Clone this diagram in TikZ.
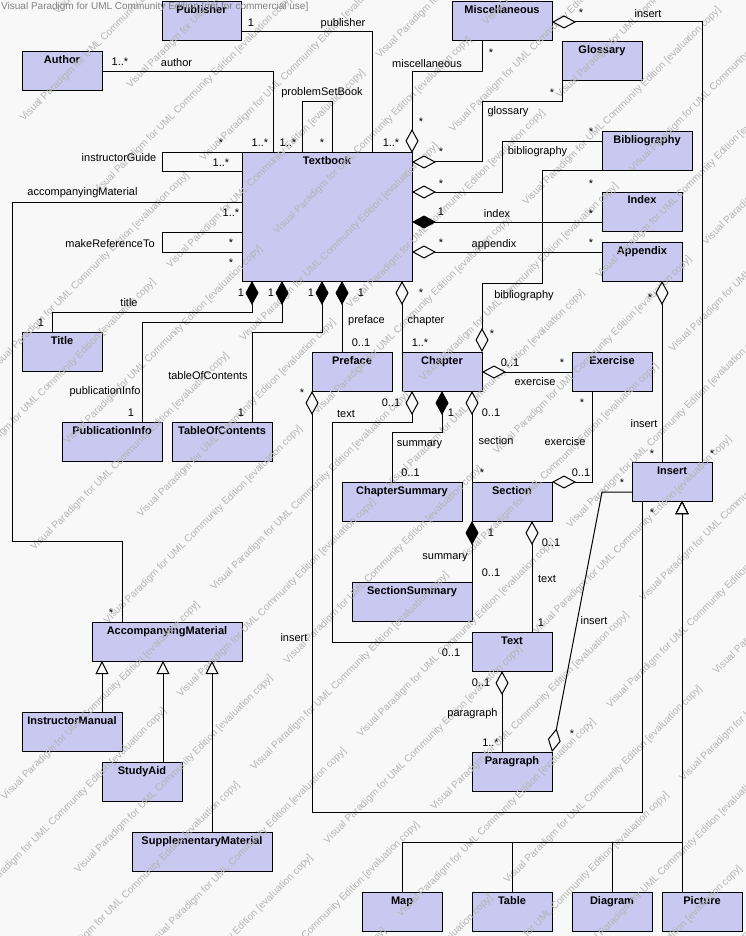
\documentclass[tikz,border=0pt]{standalone}
\usepackage{fontspec}
\setmainfont{Liberation Sans}
\usetikzlibrary{arrows.meta,calc}
\definecolor{bgcol}{RGB}{248,248,248}
\definecolor{clsfill}{RGB}{200,200,240}
\definecolor{wmgray}{RGB}{180,180,180}
\definecolor{hdrgray}{RGB}{130,130,130}
\tikzset{
 cls/.style={draw, line width=1pt, fill=clsfill, font=\fontsize{11}{13}\selectfont\bfseries, anchor=north west, inner xsep=0pt, inner ysep=0pt, outer sep=0pt, text height=12pt, text depth=27pt},
 lab/.style={font=\fontsize{11}{13}\selectfont, anchor=base, inner sep=0pt},
 wm/.style={font=\fontsize{10}{12}\selectfont, text=wmgray, rotate=45, anchor=base west, inner sep=0pt},
 hdr/.style={font=\fontsize{10}{12}\selectfont, text=hdrgray, anchor=base west, inner sep=0pt},
 assoc/.style={draw, line width=1pt},
 aggr/.style={assoc, {Diamond[length=24pt,width=13pt,fill=bgcol]}-},
 comp/.style={assoc, {Diamond[length=24pt,width=13pt]}-},
 gen/.style={assoc, -{Triangle[length=13pt,width=13pt,fill=bgcol]}},
}
\begin{document}
\begin{tikzpicture}[x=1pt,y=-1pt]
\useasboundingbox (0,0) rectangle (746,936);
\fill[bgcol] (0,0) rectangle (746,936);
% classes
\node[cls, minimum width=79pt] (Publisher) at (162,2) {Publisher};
\node[cls, minimum width=80pt] (Author) at (22,52) {Author};
\node[cls, minimum width=170pt, text depth=116pt] (Textbook) at (242,153) {Textbook};
\node[cls, minimum width=100pt] (Miscellaneous) at (452,2) {Miscellaneous};
\node[cls, minimum width=80pt] (Glossary) at (562,42) {Glossary};
\node[cls, minimum width=90pt] (Bibliography) at (602,132) {Bibliography};
\node[cls, minimum width=80pt] (Index) at (602,192) {Index};
\node[cls, minimum width=80pt] (Appendix) at (602,242) {Appendix};
\node[cls, minimum width=80pt] (Title) at (22,332) {Title};
\node[cls, minimum width=100pt] (PublicationInfo) at (62,422) {PublicationInfo};
\node[cls, minimum width=100pt] (TableOfContents) at (172,422) {TableOfContents};
\node[cls, minimum width=80pt] (Preface) at (312,352) {Preface};
\node[cls, minimum width=80pt] (Chapter) at (402,352) {Chapter};
\node[cls, minimum width=80pt] (Exercise) at (572,352) {Exercise};
\node[cls, minimum width=120pt] (ChapterSummary) at (342,482) {ChapterSummary};
\node[cls, minimum width=80pt] (Section) at (472,482) {Section};
\node[cls, minimum width=80pt] (Insert) at (632,462) {Insert};
\node[cls, minimum width=120pt] (SectionSummary) at (352,582) {SectionSummary};
\node[cls, minimum width=80pt] (Text) at (472,632) {Text};
\node[cls, minimum width=80pt] (Paragraph) at (472,752) {Paragraph};
\node[cls, minimum width=150pt] (AccompanyingMaterial) at (92,622) {AccompanyingMaterial};
\node[cls, minimum width=100pt] (InstructorManual) at (22,712) {InstructorManual};
\node[cls, minimum width=80pt] (StudyAid) at (102,762) {StudyAid};
\node[cls, minimum width=140pt] (SupplementaryMaterial) at (132,832) {SupplementaryMaterial};
\node[cls, minimum width=80pt] (Map) at (362,892) {Map};
\node[cls, minimum width=80pt] (Table) at (472,892) {Table};
\node[cls, minimum width=80pt] (Diagram) at (572,892) {Diagram};
\node[cls, minimum width=80pt] (Picture) at (662,892) {Picture};
% watermark
\begin{scope}
\clip (0,0) rectangle (746,936);
\foreach \k in {-17,...,6}{
  \pgfmathsetmacro{\rowS}{1245+73.3*(\k)}
  \pgfmathsetmacro{\tzero}{mod(\k+100,2)==1 ? -69.3 : 29.7}
  \foreach \m in {-4,...,2}{
    \pgfmathsetmacro{\tval}{\tzero+296*(\m)}
    \pgfmathsetmacro{\xx}{(\rowS+\tval*1.41421)/2}
    \pgfmathsetmacro{\yy}{(\rowS-\tval*1.41421)/2}
    \pgfmathtruncatemacro{\vis}{and(and(\xx>-60,\xx<746),and(\yy>0,\yy<1130)) ? 1 : 0}
    \ifnum\vis=1
      \node[wm] (wm\k m\m) at (\xx,\yy) {Visual Paradigm for UML Community Edition [evaluation copy]};
    \fi
  }
}
\end{scope}
\node[hdr] (hdr) at (1,9.5) {Visual Paradigm for UML Community Edition [not for commercial use]};
% connectors
\draw[assoc] ($(Publisher.north east)+(0,30)$) -| ($(Textbook.north west)+(130,0)$);
\draw[assoc] ($(Author.north east)+(0,20)$) -| ($(Textbook.north west)+(31,0)$);
\draw[assoc] ($(Textbook.north west)+(60,0)$) -- ++(0,-51) -| ($(Textbook.north west)+(90,0)$);
\draw[assoc] (Textbook.north west) -- ++(-80,0) |- ($(Textbook.north west)+(0,19)$);
\draw[assoc] ($(Textbook.north west)+(0,49)$) -- ++(-230,0) |- ($(AccompanyingMaterial.north west)+(30,-81)$) -- ($(AccompanyingMaterial.north west)+(30,0)$);
\draw[assoc] ($(Textbook.north west)+(0,79)$) -- ++(-80,0) |- ($(Textbook.north west)+(0,99)$);
\draw[comp] ($(Textbook.south west)+(10,0)$) |- ($(Title.north west)+(30,-20)$) -- ($(Title.north west)+(30,0)$);
\draw[comp] ($(Textbook.south west)+(40,0)$) |- ($(PublicationInfo.north west)+(80,-100)$) -- ($(PublicationInfo.north west)+(80,0)$);
\draw[comp] ($(Textbook.south west)+(80,0)$) |- ($(TableOfContents.north west)+(80,-90)$) -- ($(TableOfContents.north west)+(80,0)$);
\draw[comp] ($(Textbook.south west)+(100,0)$) -- ($(Preface.north west)+(30,0)$);
\draw[aggr] ($(Textbook.south west)+(160,0)$) -- (Chapter.north west);
\draw[aggr] (Textbook.north east) -- ++(0,-81) -| ($(Miscellaneous.south west)+(30,0)$);
\draw[aggr] ($(Textbook.north east)+(0,9)$) -- ++(70,0) |- ($(Glossary.south west)+(0,21)$) -- (Glossary.south west);
\draw[aggr] ($(Textbook.north east)+(0,39)$) -- ++(90,0) |- ($(Bibliography.north west)+(0,10)$);
\draw[comp] ($(Textbook.north east)+(0,69)$) -- ($(Index.north west)+(0,30)$);
\draw[aggr] ($(Textbook.north east)+(0,99)$) -- ($(Appendix.north west)+(0,10)$);
\draw[aggr] (Chapter.north east) -- ++(0,-69) -| ($(Bibliography.south west)+(-60,0)$) -- (Bibliography.south west);
\draw[aggr] ($(Miscellaneous.north east)+(0,20)$) -| ($(Insert.north west)+(70,0)$);
\draw[aggr] ($(Appendix.south west)+(60,0)$) -- ($(Insert.north west)+(30,0)$);
\draw[aggr] ($(Chapter.north east)+(0,20)$) -- ($(Exercise.north west)+(0,20)$);
\draw[aggr] (Section.north east) -| ($(Exercise.south west)+(20,0)$);
\draw[comp] ($(Chapter.south west)+(40,0)$) |- ($(ChapterSummary.north west)+(50,-50)$) -- ($(ChapterSummary.north west)+(50,0)$);
\draw[aggr] ($(Chapter.south west)+(10,0)$) -- ++(0,31) -| ($(Text.north west)+(-140,10)$) -- ($(Text.north west)+(0,10)$);
\draw[aggr] ($(Chapter.south west)+(70,0)$) -- (Section.north west);
\draw[aggr] (Preface.south west) -- ++(0,421) -| ($(Insert.south west)+(10,0)$);
\draw[comp] (Section.south west) -- (SectionSummary.north east);
\draw[aggr] ($(Section.south west)+(60,0)$) -- ($(Text.north west)+(60,0)$);
\draw[aggr] ($(Text.south west)+(30,0)$) -- ($(Paragraph.north west)+(30,0)$);
\draw[aggr] (Paragraph.north east) -- ($(Insert.north west)+(-30,30)$) -- ($(Insert.north west)+(0,30)$);
\draw[gen] ($(Map.north west)+(40,0)$) |- ($(Insert.south west)+(50,341)$) -- ($(Insert.south west)+(50,0)$);
\draw[gen] ($(Table.north west)+(40,0)$) |- ($(Insert.south west)+(50,341)$) -- ($(Insert.south west)+(50,0)$);
\draw[gen] ($(Diagram.north west)+(40,0)$) |- ($(Insert.south west)+(50,341)$) -- ($(Insert.south west)+(50,0)$);
\draw[gen] ($(Picture.north west)+(20,0)$) -- ($(Insert.south west)+(50,0)$);
\draw[gen] ($(InstructorManual.north west)+(80,0)$) -- ($(AccompanyingMaterial.south west)+(10,0)$);
\draw[gen] ($(StudyAid.north west)+(61,0)$) -- ($(AccompanyingMaterial.south west)+(71,0)$);
\draw[gen] ($(SupplementaryMaterial.north west)+(80,0)$) -- ($(AccompanyingMaterial.south west)+(120,0)$);
% labels
\node[lab] (m1) at (251,26.5) {1};
\node[lab] (r1) at (343,26.5) {publisher};
\node[lab] (m2) at (391,147) {1..*};
\node[lab] (m3) at (120,66) {1..*};
\node[lab] (r2) at (176.5,67) {author};
\node[lab] (m4) at (260,147) {1..*};
\node[lab] (r3) at (322,95.5) {problemSetBook};
\node[lab] (m5) at (288,147) {1..*};
\node[lab] (m6) at (322,147) {*};
\node[lab] (r4) at (119,161.5) {instructorGuide};
\node[lab] (m7) at (221,147) {*};
\node[lab] (m8) at (221,166.5) {1..*};
\node[lab] (r5) at (82.5,195.5) {accompanyingMaterial};
\node[lab] (m9) at (231,216) {1..*};
\node[lab] (m10) at (111,616) {*};
\node[lab] (r6) at (110,247.5) {makeReferenceTo};
\node[lab] (m11) at (231,246) {*};
\node[lab] (m12) at (231,266) {*};
\node[lab] (m13) at (241,296) {1};
\node[lab] (m14) at (271,296) {1};
\node[lab] (m15) at (311,296) {1};
\node[lab] (m16) at (361,296) {1};
\node[lab] (m17) at (421,296) {*};
\node[lab] (r7) at (129,306.5) {title};
\node[lab] (m18) at (41,326) {1};
\node[lab] (r8) at (105,394) {publicationInfo};
\node[lab] (m19) at (131,416.5) {1};
\node[lab] (r9) at (208,379) {tableOfContents};
\node[lab] (m20) at (241,416.5) {1};
\node[lab] (r10) at (366.5,323) {preface};
\node[lab] (m21) at (361,346) {0..1};
\node[lab] (r11) at (426,323) {chapter};
\node[lab] (m22) at (420,346) {1..*};
\node[lab] (m23) at (302,396) {*};
\node[lab] (r12) at (346,417) {text};
\node[lab] (m24) at (391,406.5) {0..1};
\node[lab] (m25) at (451,416.5) {1};
\node[lab] (m26) at (491,416.5) {0..1};
\node[lab] (r13) at (419.5,446) {summary};
\node[lab] (r14) at (496,444) {section};
\node[lab] (m27) at (410.5,476.5) {0..1};
\node[lab] (m28) at (482,476) {*};
\node[lab] (r15) at (524,298) {bibliography};
\node[lab] (m29) at (492,337) {*};
\node[lab] (m30) at (510,366) {0..1};
\node[lab] (m31) at (562,366) {*};
\node[lab] (r16) at (535,385) {exercise};
\node[lab] (m32) at (582,406) {*};
\node[lab] (r17) at (565,445) {exercise};
\node[lab] (m33) at (581,476.5) {0..1};
\node[lab] (r18) at (644,427) {insert};
\node[lab] (m34) at (652,457) {*};
\node[lab] (m35) at (712,457) {*};
\node[lab] (m36) at (622,486) {*};
\node[lab] (m37) at (652,516) {*};
\node[lab] (m38) at (491,536) {1};
\node[lab] (m39) at (551,546.5) {0..1};
\node[lab] (r19) at (445,559) {summary};
\node[lab] (m40) at (491,576.5) {0..1};
\node[lab] (r20) at (547,582) {text};
\node[lab] (r21) at (594,624) {insert};
\node[lab] (m41) at (541,626.5) {1};
\node[lab] (r22) at (294,641.5) {insert};
\node[lab] (m42) at (451,656.5) {0..1};
\node[lab] (m43) at (481,686) {0..1};
\node[lab] (r23) at (472.5,716) {paragraph};
\node[lab] (m44) at (490.5,746) {1..*};
\node[lab] (m45) at (572,737) {*};
\node[lab] (r24) at (648,17.5) {insert};
\node[lab] (m46) at (581,16.5) {*};
\node[lab] (m47) at (491,56.5) {*};
\node[lab] (r25) at (427,67.5) {miscellaneous};
\node[lab] (m48) at (421,126) {*};
\node[lab] (m49) at (552,96.5) {*};
\node[lab] (r26) at (508,114.5) {glossary};
\node[lab] (m50) at (441,156) {*};
\node[lab] (r27) at (537.5,155) {bibliography};
\node[lab] (m51) at (591,136) {*};
\node[lab] (m52) at (441,187) {*};
\node[lab] (m53) at (591,187) {*};
\node[lab] (m54) at (441,215) {1};
\node[lab] (r28) at (497,217) {index};
\node[lab] (m55) at (591,217) {*};
\node[lab] (m56) at (441,246) {*};
\node[lab] (r29) at (494,247) {appendix};
\node[lab] (m57) at (591,246) {*};
\node[lab] (m58) at (650,301) {*};
\end{tikzpicture}
\end{document}
